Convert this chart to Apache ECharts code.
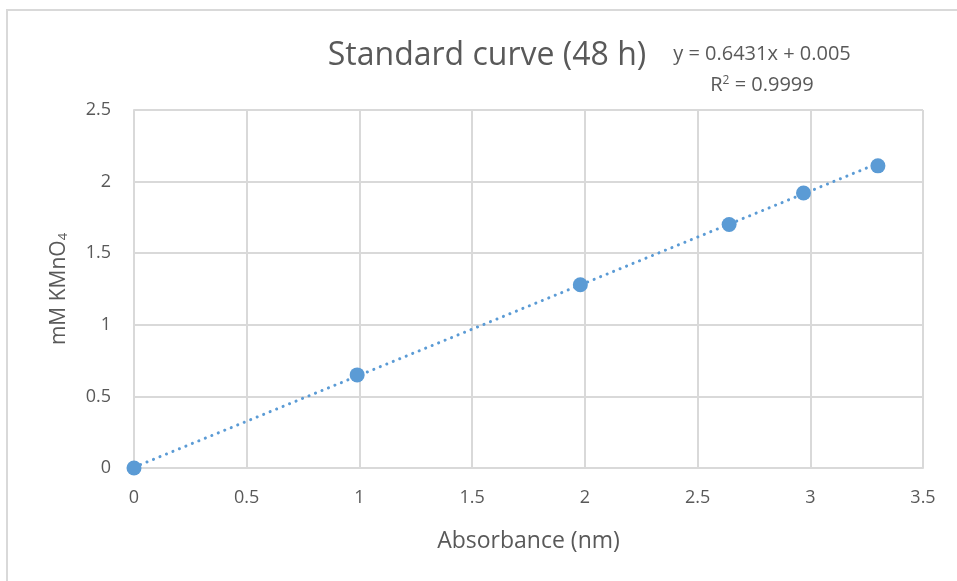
<!DOCTYPE html>
<html>
<head>
<meta charset="utf-8">
<script src="https://cdn.jsdelivr.net/npm/echarts@6/dist/echarts.min.js"></script>
<style>
  html, body { margin: 0; padding: 0; background: #fff; overflow: hidden; }
  #frame { position: absolute; left: 6px; top: 9px; width: 1000px; height: 600px;
           border-top: 2px solid #d9d9d9; border-left: 2px solid #d9d9d9; }
  #chart { position: absolute; left: 0; top: 0; width: 957px; height: 581px; }
</style>
</head>
<body>
<div id="frame"></div>
<div id="chart"></div>
<script>
// measured points (absorbance, mM KMnO4)
const absorbance = [0, 0.99, 1.98, 2.64, 2.97, 3.30]
const kmno4      = [0, 0.65, 1.28, 1.70, 1.92, 2.11]

// linear trendline endpoints, as drawn by the spreadsheet
const trendX = [0, 3.30]
const trendY = [0.005, 2.127]

const xTicks = ['0', '0.5', '1', '1.5', '2', '2.5', '3', '3.5']
const yTicks = ['0', '0.5', '1', '1.5', '2', '2.5']

const font  = 'Open Sans, Liberation Sans, sans-serif'
const gray  = '#595959'
const blue  = '#5b9bd5'
const gridC = '#d9d9d9'

const chart = echarts.init(document.getElementById('chart'), null, { renderer: 'canvas' })

chart.setOption({
  backgroundColor: 'transparent',
  animation: false,
  graphic: [
    { type: 'text', x: 487, y: 56, silent: true,
      style: { text: 'Standard curve (48 h)', fontFamily: font, fontSize: 32,
               fill: gray, align: 'center', verticalAlign: 'middle' } },
    { type: 'text', x: 762, y: 54, silent: true,
      style: { text: 'y = 0.6431x + 0.005', fontFamily: font, fontSize: 20,
               fill: gray, align: 'center', verticalAlign: 'middle' } },
    { type: 'text', x: 762, y: 85, silent: true,
      style: { text: '{n|R}{s|2}{n| = 0.9999}', align: 'center', verticalAlign: 'middle',
               rich: {
                 n: { fontFamily: font, fontSize: 20, fill: gray },
                 s: { fontFamily: font, fontSize: 12, fill: gray, verticalAlign: 'top', padding: [0, 0, 9, 0] },
               } } },
  ],
  grid: { left: 134, right: 34, top: 110, bottom: 113, containLabel: false },
  xAxis: {
    type: 'value', min: 0, max: 3.5, interval: 0.5,
    name: 'Absorbance (nm)', nameLocation: 'middle', nameGap: 62,
    nameTextStyle: { fontFamily: font, fontSize: 23, color: gray },
    axisLine: { show: true, onZero: false, lineStyle: { color: gridC, width: 2 } },
    axisTick: { show: false },
    axisLabel: { fontFamily: font, fontSize: 18, color: gray, margin: 21,
                 formatter: (v) => xTicks[Math.round(v / 0.5)] },
    splitLine: { show: true, lineStyle: { color: gridC, width: 2 } },
  },
  yAxis: {
    type: 'value', min: 0, max: 2.5, interval: 0.5,
    name: '{n|mM KMnO}{s|4}', nameLocation: 'middle', nameGap: 64, nameRotate: 90,
    nameTextStyle: { rich: {
      n: { fontFamily: font, fontSize: 21, color: gray },
      s: { fontFamily: font, fontSize: 13, color: gray, verticalAlign: 'bottom', padding: [9, 0, 0, 0] },
    } },
    axisLine: { show: true, onZero: false, lineStyle: { color: gridC, width: 2 } },
    axisTick: { show: false },
    axisLabel: { fontFamily: font, fontSize: 18, color: gray, margin: 23,
                 formatter: (v) => yTicks[Math.round(v / 0.5)] },
    splitLine: { show: true, lineStyle: { color: gridC, width: 2 } },
  },
  series: [
    { name: 'Trendline', type: 'line', data: trendX.map((x, i) => [x, trendY[i]]),
      symbol: 'none', z: 2,
      lineStyle: { color: blue, width: 3, type: [0.1, 6.9], cap: 'round' } },
    { name: 'Standard', type: 'scatter', data: absorbance.map((x, i) => [x, kmno4[i]]),
      symbol: 'circle', symbolSize: 15, z: 3,
      itemStyle: { color: blue, opacity: 1 } },
  ],
})
</script>
</body>
</html>
